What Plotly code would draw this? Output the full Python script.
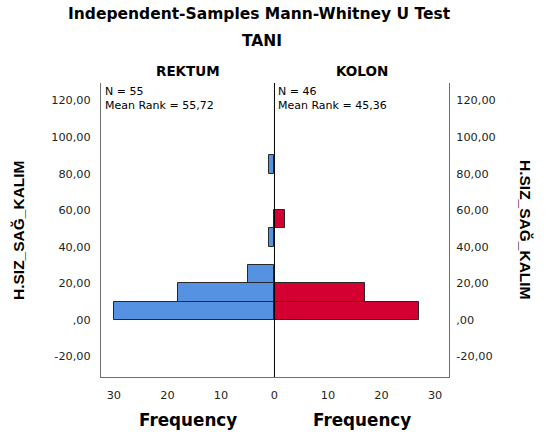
import plotly.graph_objects as go

# Frequency histograms of H.SIZ_SAĞ_KALIM by TANI group (bin width 10)
bin_centers_rektum = [5, 15, 25, 45, 85]
counts_rektum = [30, 18, 5, 1, 1]
bin_centers_kolon = [5, 15, 55]
counts_kolon = [27, 17, 2]

y_tick_vals = [-20, 0, 20, 40, 60, 80, 100, 120]
y_tick_text = ["-20,00", ",00", "20,00", "40,00", "60,00", "80,00", "100,00", "120,00"]
x_tick_vals = [-30, -20, -10, 0, 10, 20, 30]
x_tick_text = ["30", "20", "10", "0", "10", "20", "30"]

group_names = ["REKTUM", "KOLON"]
group_n = [55, 46]
group_mean_rank = ["55,72", "45,36"]

BLUE = "rgb(85,146,226)"
RED = "rgb(212,0,50)"
EDGE = "rgb(40,40,40)"
AXIS_GRAY = "rgb(110,110,110)"
FONT = "DejaVu Sans, Verdana, sans-serif"
FONT_V = "Liberation Sans, Arial, sans-serif"

W, H = 547, 439
ML, MR, MT, MB = 101, 98, 83, 62
PW, PH = W - ML - MR, H - MT - MB


def px(xp):
    """pixel x -> paper fraction"""
    return (xp - ML) / PW


def py(yp):
    """pixel y (from top) -> paper fraction"""
    return (H - MB - yp) / PH


def label(text, x, y, size, angle=0, xanchor="center", yanchor="middle", family=FONT):
    fig.add_annotation(text=text, x=px(x), y=py(y), xref="paper", yref="paper",
                       xanchor=xanchor, yanchor=yanchor, align="left",
                       textangle=angle, showarrow=False,
                       font=dict(family=family, size=size, color="black"))


fig = go.Figure()
fig.add_trace(go.Bar(
    y=bin_centers_rektum, x=[-c for c in counts_rektum], orientation="h",
    width=10, marker=dict(color=BLUE, line=dict(color=EDGE, width=1)),
    name=group_names[0], showlegend=False,
))
fig.add_trace(go.Bar(
    y=bin_centers_kolon, x=counts_kolon, orientation="h",
    width=10, marker=dict(color=RED, line=dict(color=EDGE, width=1)),
    name=group_names[1], showlegend=False,
))
# invisible trace to carry the right-hand y axis
fig.add_trace(go.Scatter(x=[0], y=[0], yaxis="y2", mode="markers",
                         marker=dict(opacity=0), showlegend=False, hoverinfo="skip"))

y_range = [-31.2, 129.5]
tick_font = dict(family=FONT, size=11.3, color="rgb(35,35,35)")

fig.update_layout(
    width=W, height=H, autosize=False,
    margin=dict(l=ML, r=MR, t=MT, b=MB),
    paper_bgcolor="white", plot_bgcolor="white",
    barmode="overlay", bargap=0,
    font=dict(family=FONT, color="black"),
    xaxis=dict(range=[-32.4, 32.6], tickvals=x_tick_vals, ticktext=x_tick_text,
               showgrid=False, zeroline=False, showline=True, linecolor=AXIS_GRAY,
               linewidth=1, ticks="", ticklabelstandoff=7, tickfont=tick_font),
    yaxis=dict(range=y_range, tickvals=y_tick_vals, ticktext=y_tick_text,
               showgrid=False, zeroline=False, showline=True, linecolor=AXIS_GRAY,
               linewidth=1, ticks="", ticklabelstandoff=7, tickfont=tick_font),
    yaxis2=dict(range=y_range, tickvals=y_tick_vals, ticktext=y_tick_text,
                overlaying="y", side="right", showgrid=False, zeroline=False,
                showline=True, linecolor=AXIS_GRAY, linewidth=1, ticks="",
                ticklabelstandoff=4, tickfont=tick_font),
)

# center divider between the two groups
fig.add_shape(type="line", xref="x", yref="paper", x0=0, x1=0, y0=0, y1=1,
              line=dict(color="black", width=1))

# titles
label("<b>Independent-Samples Mann-Whitney U Test</b>", 259, 14, 15.5)
label("<b>TANI</b>", 262, 41, 15.5)

# group headers
label("<b>%s</b>" % group_names[0], 187.5, 71, 13.5)
label("<b>%s</b>" % group_names[1], 362, 71, 13.5)

# group statistics
for x0, n, mr in [(102.5, group_n[0], group_mean_rank[0]),
                  (275.5, group_n[1], group_mean_rank[1])]:
    label("N = %d<br>Mean Rank = %s" % (n, mr), x0, 83, 11, xanchor="left", yanchor="top")

# axis titles
label("<b>H.SIZ_SAĞ_KALIM</b>", 18, 230, 15.5, angle=-90, family=FONT_V)
label("<b>H.SIZ_SAĞ_KALIM</b>", 526, 230, 15.5, angle=90, family=FONT_V)
label("<b>Frequency</b>", 188, 420, 16.8)
label("<b>Frequency</b>", 362, 420, 16.8)

fig.write_html("out.html")
